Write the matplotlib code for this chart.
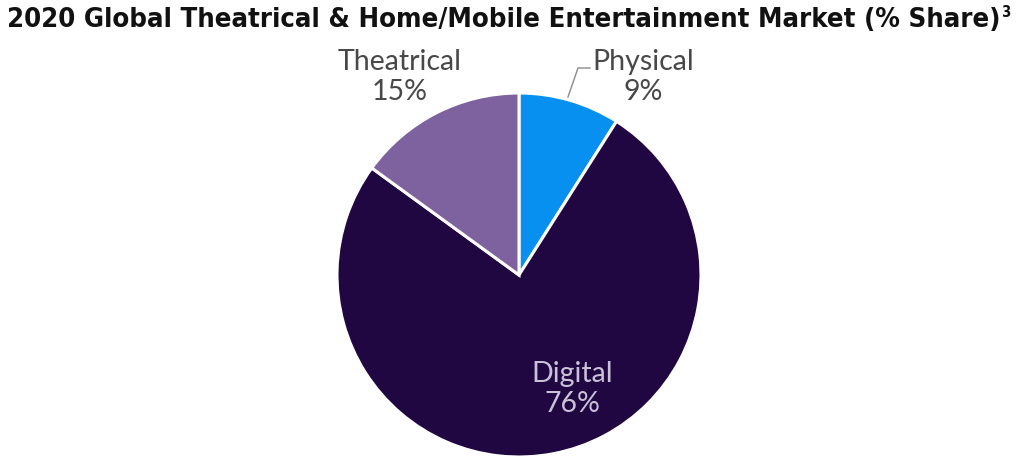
import matplotlib
matplotlib.use("Agg")
from matplotlib import pyplot as plt

segments = ["Physical", "Digital", "Theatrical"]
shares = [9, 76, 15]
colors = ["#0790F0", "#200742", "#7E62A0"]

fig = plt.figure(figsize=(10.30, 4.58), dpi=100)
ax = fig.add_axes([0, 0, 1, 1])

ax.pie(shares, colors=colors, startangle=90, counterclock=False,
       radius=182, center=(519, 183),
       wedgeprops=dict(edgecolor="white", linewidth=2.2))
ax.set_xlim(0, 1030)
ax.set_ylim(0, 458)
ax.set_aspect("equal")
ax.axis("off")

# title, footnote marker placed right after it
title = fig.text(0.007, 0.985, "2020 Global Theatrical & Home/Mobile Entertainment Market (% Share)",
                 family="DejaVu Sans", fontstretch="condensed", weight="bold", fontsize=19.7,
                 va="top", ha="left", color="#111111")
fig.canvas.draw()
bb = title.get_window_extent()
fig.text(bb.x1 / fig.bbox.width + 0.0005, 0.99, "3", family="DejaVu Sans", fontstretch="condensed",
         weight="bold", fontsize=10.5, va="top", ha="left", color="#111111")

label_font = "Lato"
ax.text(400, 381, "Theatrical\n15%", ha="center", va="center", fontsize=20.5,
        family=label_font, color="#484848", linespacing=1.2)
ax.text(643, 381, "Physical\n9%", ha="center", va="center", fontsize=20.5,
        family=label_font, color="#484848", linespacing=1.2)
ax.text(572, 69, "Digital\n76%", ha="center", va="center", fontsize=20.5,
        family=label_font, color="#C9C1D8", linespacing=1.2)
ax.plot([568, 578, 590], [361, 390, 390], color="#8A8A8A", linewidth=1)

fig.savefig("out.png", dpi=100)
